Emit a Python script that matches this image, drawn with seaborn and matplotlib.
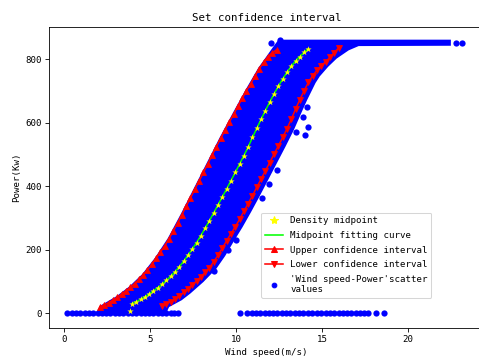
import matplotlib
matplotlib.use("Agg")
import matplotlib.pyplot as plt
import seaborn as sns

# ---- density midpoints (wind speed m/s, power kW) ----
mid_speed = [3.85, 3.95, 4.2, 4.45, 4.7, 4.95, 5.2, 5.45, 5.7, 5.95, 6.2, 6.45, 6.7, 6.95,
             7.2, 7.45, 7.7, 7.95, 8.2, 8.45, 8.7, 8.95, 9.2, 9.45, 9.7, 9.95, 10.2,
             10.45, 10.7, 10.95, 11.2, 11.45, 11.7, 11.95, 12.2, 12.45, 12.7, 12.95,
             13.2, 13.45, 13.7, 13.95, 14.2]
mid_power = [8, 30, 36, 43, 51, 60, 70, 80, 91, 103, 116, 130, 146, 163,
             182, 201, 222, 244, 267, 291, 316, 341, 366, 391, 417, 443, 469,
             496, 523, 553, 582, 610, 638, 664, 690, 714, 737, 758,
             777, 794, 808, 821, 833]

# ---- fitted midpoint curve ----
fit_speed = mid_speed[1:]
fit_power = mid_power[1:]

# ---- upper confidence bound ----
upper_speed = [2.1, 2.35, 2.6, 2.85, 3.1, 3.35, 3.6, 3.85, 4.1, 4.35, 4.6, 4.85, 5.1, 5.35,
               5.6, 5.85, 6.1, 6.35, 6.6, 6.85, 7.1, 7.35, 7.6, 7.85, 8.1, 8.35, 8.6,
               8.85, 9.1, 9.35, 9.6, 9.85, 10.1, 10.35, 10.6, 10.85, 11.1, 11.35, 11.6,
               11.85, 12.1, 12.35]
upper_power = [20, 26, 33, 41, 50, 60, 70, 81, 93, 106, 120, 136, 153, 172,
               192, 212, 234, 258, 284, 310, 337, 363, 390, 416, 443, 470, 497,
               524, 550, 576, 601, 626, 651, 676, 700, 723, 747, 770, 790,
               808, 820, 829]

# ---- lower confidence bound ----
lower_speed = [5.7, 5.95, 6.2, 6.45, 6.7, 6.95, 7.2, 7.45, 7.7, 7.95, 8.2, 8.45, 8.7, 8.95,
               9.2, 9.45, 9.7, 9.95, 10.2, 10.45, 10.7, 10.95, 11.2, 11.45, 11.7, 11.95,
               12.2, 12.45, 12.7, 12.95, 13.2, 13.45, 13.7, 13.95, 14.2, 14.45, 14.7,
               14.95, 15.2, 15.45, 15.7, 15.95]
lower_power = [22, 29, 36, 44, 54, 65, 77, 89, 101, 114, 128, 143, 162, 182,
               205, 228, 250, 272, 295, 320, 345, 370, 396, 422, 448, 474,
               500, 526, 553, 580, 610, 642, 672, 700, 727, 748, 765,
               779, 792, 805, 820, 835]

# ---- outline of the dense wind speed-power cloud ----
cloud_speed = [2.0, 2.15, 3.1, 3.85, 4.6, 5.35, 6.1, 6.85, 7.6, 8.35, 9.1, 9.85, 10.6,
               11.35, 11.85, 12.2, 12.5, 22.4, 22.4, 17.1, 16.5, 15.8, 15.3, 14.8,
               14.55, 14.05, 13.8, 13.3, 12.8, 12.3, 11.8, 11.3, 10.8, 10.3, 9.8,
               9.3, 8.8, 8.05, 7.3, 6.8, 6.05, 5.9]
cloud_power = [5, 20, 50, 81, 120, 172, 234, 310, 390, 470, 550, 626, 700,
               770, 808, 835, 857, 857, 846, 845, 831, 805, 779, 748,
               727, 672, 642, 580, 526, 474, 422, 370, 320, 272, 228,
               182, 143, 101, 65, 44, 22, 5]

# ---- individual scatter points (zero-power rows, plateau tail, stragglers) ----
zero_speed = [0.2, 0.45, 0.7, 0.95, 1.2, 1.45, 1.7, 1.95, 2.2, 2.45, 2.7, 2.95, 3.2,
              3.45, 3.7, 3.95, 4.2, 4.45, 4.7, 4.95, 5.2, 5.45, 5.7, 5.95, 6.2, 6.4,
              6.6, 10.2, 10.65, 10.95, 11.15, 11.4, 11.65, 11.9, 12.15, 12.4, 12.65,
              12.9, 13.15, 13.4, 13.65, 13.9, 14.15, 14.4, 14.7, 14.95, 15.2, 15.45,
              15.7, 15.95, 16.2, 16.45, 16.7, 16.95, 17.2, 17.45, 17.65, 18.1, 18.6]
zero_power = [0.0 for _ in zero_speed]
extra_speed = [22.8, 23.1, 12.0, 12.55, 14.1, 13.9, 13.5, 14.0, 14.2, 12.4, 11.9,
               11.5, 9.55, 10.0, 8.7]
extra_power = [851, 851, 852, 860, 650, 617, 569, 560, 585, 450, 408,
               364, 200, 230, 133]
scatter_speed = zero_speed + extra_speed
scatter_power = zero_power + extra_power

plt.rcParams["font.family"] = ["DejaVu Sans Mono"]
plt.rcParams["font.size"] = 8.8

fig = plt.figure(figsize=(479 / 75, 360 / 75), dpi=75)
ax = fig.add_axes([49 / 479, 32 / 360, 435 / 479, 301 / 360])

ax.fill(cloud_speed, cloud_power, color="blue", lw=2.5, zorder=1)
sns.scatterplot(x=scatter_speed, y=scatter_power, color="blue", s=36, linewidth=0,
                ax=ax, zorder=2)
sns.lineplot(x=upper_speed, y=upper_power, color="red", lw=1.5, marker="^",
             markersize=6.5, markeredgecolor="red", estimator=None, sort=False,
             ax=ax, zorder=3)
sns.lineplot(x=lower_speed, y=lower_power, color="red", lw=1.5, marker="v",
             markersize=6.5, markeredgecolor="red", estimator=None, sort=False,
             ax=ax, zorder=3)
sns.lineplot(x=fit_speed, y=fit_power, color="#00ff00", lw=1.5, estimator=None,
             sort=False, ax=ax, zorder=4)
sns.scatterplot(x=mid_speed, y=mid_power, color="yellow", marker="*", s=40,
                linewidth=0, ax=ax, zorder=5)

ax.set_xlim(-0.87, 24.4)
ax.set_ylim(-47, 901)
ax.set_xticks([0, 5, 10, 15, 20])
ax.set_yticks([0, 200, 400, 600, 800])
ax.set_title("Set confidence interval", fontsize=10.3)
ax.set_xlabel("Wind speed(m/s)")
ax.set_ylabel("Power(Kw)")

h_star = plt.Line2D([], [], ls="none", marker="*", color="yellow", markersize=8)
h_fit = plt.Line2D([], [], color="#00ff00", lw=1.5)
h_up = plt.Line2D([], [], color="red", lw=1.5, marker="^", markersize=6.5)
h_lo = plt.Line2D([], [], color="red", lw=1.5, marker="v", markersize=6.5)
h_sc = plt.Line2D([], [], ls="none", marker="o", color="blue", markersize=4.5)
ax.legend([h_star, h_fit, h_up, h_lo, h_sc],
          ["Density midpoint", "Midpoint fitting curve", "Upper confidence interval",
           "Lower confidence interval", "'Wind speed-Power'scatter\nvalues"],
          loc="lower left", bbox_to_anchor=(0.487, 0.0997), borderaxespad=0,
          fontsize=8.8, labelspacing=0.62)

fig.savefig("out.png", dpi=75)
